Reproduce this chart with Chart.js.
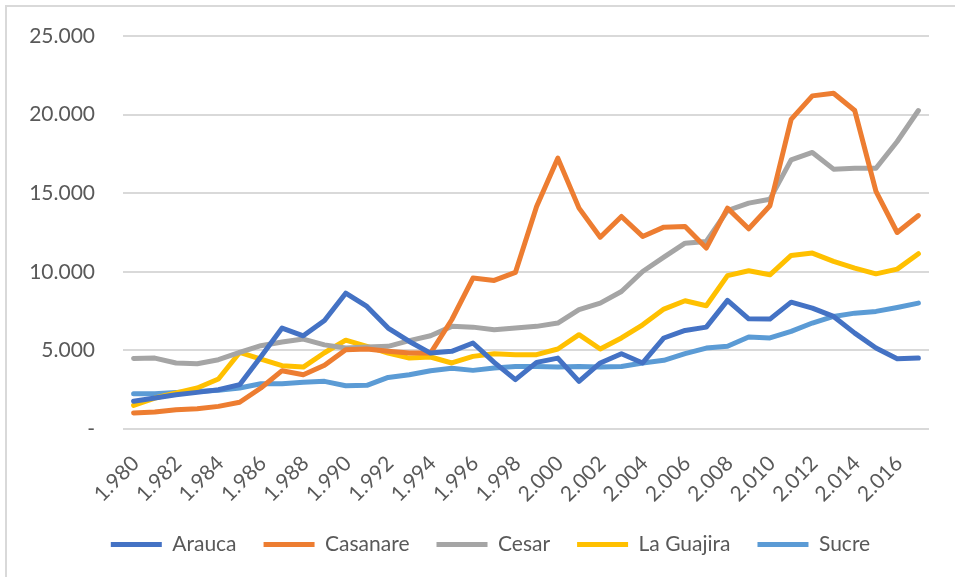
<!DOCTYPE html>
<html>
<head>
<meta charset="utf-8">
<script src="https://cdn.jsdelivr.net/npm/chart.js@4.4.1/dist/chart.umd.min.js"></script>
<style>
  html, body { margin: 0; padding: 0; background: #fff; }
  #wrap { position: relative; width: 955px; height: 577px; overflow: hidden; }
  #frame { position: absolute; left: 5px; top: 5px; width: 1000px; height: 1000px;
           border-left: 2px solid #d9d9d9; border-top: 2px solid #d9d9d9; pointer-events: none; }
  canvas { position: absolute; left: 0; top: 0; }
</style>
</head>
<body>
<div id="wrap">
  <canvas id="chart" width="955" height="577"></canvas>
  <div id="frame"></div>
</div>
<script>
const years = ['1.980', '1.981', '1.982', '1.983', '1.984', '1.985', '1.986', '1.987', '1.988', '1.989',
  '1.990', '1.991', '1.992', '1.993', '1.994', '1.995', '1.996', '1.997', '1.998', '1.999',
  '2.000', '2.001', '2.002', '2.003', '2.004', '2.005', '2.006', '2.007', '2.008', '2.009',
  '2.010', '2.011', '2.012', '2.013', '2.014', '2.015', '2.016', '2.017'];

const arauca = [1760, 1970, 2180, 2330, 2500, 2820, 4600, 6420, 5930, 6900,
  8640, 7800, 6420, 5570, 4830, 4940, 5470, 4240, 3140, 4240,
  4510, 3030, 4200, 4790, 4200, 5790, 6270, 6480, 8180, 7010,
  6990, 8070, 7690, 7160, 6100, 5150, 4470, 4510];

const casanare = [1020, 1080, 1230, 1290, 1440, 1700, 2610, 3710, 3450, 4050,
  5040, 5090, 4940, 4830, 4830, 6950, 9600, 9450, 9960, 14150,
  17230, 14050, 12200, 13520, 12250, 12840, 12880, 11510, 14050, 12740,
  14200, 19700, 21190, 21360, 20260, 15110, 12500, 13580];

const cesar = [4490, 4510, 4200, 4150, 4410, 4870, 5300, 5530, 5720, 5350,
  5150, 5210, 5260, 5620, 5930, 6530, 6480, 6310, 6420, 6530,
  6740, 7590, 8010, 8750, 10020, 10930, 11820, 11930, 13900, 14370,
  14620, 17120, 17590, 16530, 16590, 16590, 18290, 20260];

const laGuajira = [1500, 1970, 2290, 2610, 3180, 4870, 4450, 4030, 3940, 4850,
  5650, 5260, 4830, 4510, 4580, 4200, 4620, 4790, 4720, 4730,
  5090, 6000, 5090, 5790, 6630, 7630, 8160, 7840, 9760, 10070,
  9810, 11040, 11190, 10660, 10230, 9870, 10170, 11150];

const sucre = [2250, 2250, 2330, 2390, 2460, 2610, 2880, 2880, 2970, 3030,
  2750, 2780, 3280, 3450, 3710, 3860, 3730, 3880, 3980, 3980,
  3940, 3980, 3940, 3980, 4200, 4370, 4790, 5150, 5260, 5850,
  5790, 6210, 6740, 7160, 7370, 7480, 7730, 8010];

const seriesNames = ['Arauca', 'Casanare', 'Cesar', 'La Guajira', 'Sucre'];
const seriesColors = ['#4472C4', '#ED7D31', '#A5A5A5', '#FFC000', '#5B9BD5'];
const seriesValues = [arauca, casanare, cesar, laGuajira, sucre];

const textColor = '#595959';
const fontFamily = 'Lato, "Open Sans", sans-serif';

function thousands(v) {
  if (v === 0) return '-';
  return String(v).replace(/\B(?=(\d{3})+(?!\d))/g, '.');
}

const datasets = seriesNames.map((name, i) => ({
  label: name,
  data: seriesValues[i],
  borderColor: seriesColors[i],
  backgroundColor: seriesColors[i],
  borderWidth: 5,
  borderCapStyle: 'round',
  borderJoinStyle: 'round',
  pointRadius: 0,
  pointHoverRadius: 0,
  tension: 0,
  fill: false
}));

// the legend in the original sits a bit right of the page centre
const legendShift = {
  id: 'legendShift',
  afterLayout(chart) {
    chart.legend.left += 26;
    chart.legend.right += 26;
  }
};

const ctx = document.getElementById('chart').getContext('2d');
new Chart(ctx, {
  type: 'line',
  data: { labels: years, datasets: datasets },
  plugins: [legendShift],
  options: {
    responsive: false,
    animation: false,
    events: [],
    layout: { padding: { left: 0, right: 26, top: 36, bottom: 12 } },
    scales: {
      x: {
        offset: true,
        grid: { display: false, drawTicks: false },
        border: { display: false },
        ticks: {
          autoSkip: false,
          minRotation: 45,
          maxRotation: 45,
          padding: 22,
          labelOffset: 2,
          color: textColor,
          font: { family: fontFamily, size: 21 },
          callback: (v, i) => (i % 2 === 0 ? years[i] : '')
        },
        afterFit: (scale) => {
          scale.height = 78;
          scale.paddingLeft = 0;
          scale.paddingRight = 0;
        }
      },
      y: {
        min: 0,
        max: 25000,
        grid: { color: '#d9d9d9', lineWidth: 2, drawTicks: false },
        border: { display: false },
        ticks: {
          stepSize: 5000,
          padding: 28,
          color: textColor,
          font: { family: fontFamily, size: 21 },
          callback: (v) => thousands(v)
        },
        afterFit: (scale) => {
          scale.width = 123;
          scale.paddingTop = 0;
          scale.paddingBottom = 0;
        }
      }
    },
    plugins: {
      tooltip: { enabled: false },
      legend: {
        position: 'bottom',
        labels: {
          usePointStyle: true,
          pointStyle: 'line',
          pointStyleWidth: 51,
          padding: 27,
          color: textColor,
          font: { family: fontFamily, size: 21 }
        }
      }
    }
  }
});
</script>
</body>
</html>
